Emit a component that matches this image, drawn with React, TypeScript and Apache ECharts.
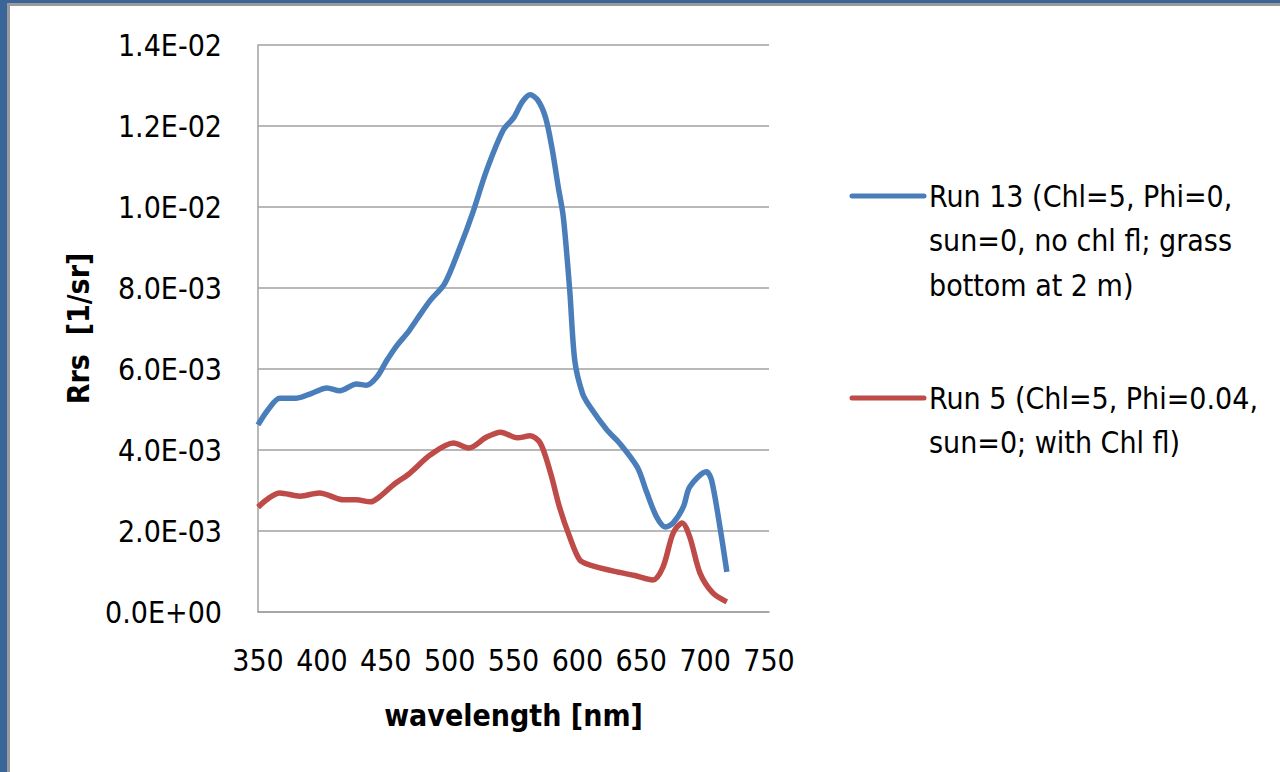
import React, { useEffect, useRef } from "react";
import * as echarts from "echarts";

const blueWl = [350, 358, 367, 380, 392, 404, 414, 427, 435, 443, 451, 459, 467, 474, 485, 496, 508, 518, 529, 542, 550, 557, 563, 569, 575, 580, 585, 589, 594, 598, 604, 610, 623, 633, 647, 654, 662, 669, 675, 683, 688, 701, 705, 712, 717];
const blueVal = [0.00462, 0.0050, 0.00528, 0.00528, 0.0054, 0.00553, 0.00546, 0.00563, 0.0056, 0.0058, 0.00622, 0.00659, 0.00689, 0.00721, 0.0077, 0.0081, 0.0090, 0.00985, 0.01091, 0.0119, 0.0122, 0.0126, 0.01277, 0.01264, 0.01222, 0.01148, 0.0105, 0.00975, 0.00795, 0.0062, 0.0054, 0.00506, 0.0045, 0.00417, 0.00357, 0.00298, 0.00235, 0.0021, 0.0022, 0.0026, 0.00309, 0.00346, 0.00326, 0.00202, 0.00099];

const redWl = [350, 358, 367, 383, 398, 417, 427, 438, 445, 456, 469, 485, 503, 515, 529, 540, 553, 563, 571, 579, 586, 594, 602, 610, 631, 645, 659, 667, 675, 682, 688, 696, 706, 717];
const redVal = [0.00259, 0.0028, 0.00294, 0.00286, 0.00294, 0.00277, 0.00277, 0.00272, 0.00284, 0.00314, 0.00343, 0.00388, 0.00417, 0.00405, 0.00432, 0.00444, 0.0043, 0.00435, 0.00417, 0.00343, 0.00259, 0.00185, 0.00128, 0.00116, 0.00099, 0.0009, 0.00079, 0.00111, 0.00195, 0.0022, 0.00185, 0.00096, 0.00047, 0.00025];

const seriesNames = ["Run 13 (Chl=5, Phi=0, sun=0, no chl fl; grass bottom at 2 m)", "Run 5 (Chl=5, Phi=0.04, sun=0; with Chl fl)"];
const legendLines = [
  ["Run 13 (Chl=5, Phi=0,", "sun=0, no chl fl; grass", "bottom at 2 m)"],
  ["Run 5 (Chl=5, Phi=0.04,", "sun=0; with Chl fl)"],
];
const colors = ["#4a7ebb", "#be4b48"];
const xTitle = "wavelength [nm]";
const yTitle = "Rrs  [1/sr]";

const FONT = "'Liberation Sans Narrow', 'DejaVu Sans Condensed', 'Open Sans', sans-serif";

function fmtSci(v: number): string {
  if (v === 0) return "0.0E+00";
  const s = v.toExponential(1).toUpperCase();
  const m = s.match(/^(.*)E([+-])(\d+)$/);
  if (!m) return s;
  return m[1] + "E" + m[2] + m[3].padStart(2, "0");
}

export default function App() {
  const ref = useRef<HTMLDivElement>(null);
  useEffect(() => {
    if (!ref.current) return;
    const chart = echarts.init(ref.current, null, { renderer: "svg" });
    const legendGraphics: any[] = [];
    const legendTops = [196, 398];
    legendLines.forEach((lines, i) => {
      legendGraphics.push({
        type: "line",
        shape: { x1: 852, y1: legendTops[i], x2: 924, y2: legendTops[i] },
        style: { stroke: colors[i], lineWidth: 5, lineCap: "round" },
      });
      lines.forEach((t, j) => {
        legendGraphics.push({
          type: "text",
          x: 929,
          y: legendTops[i] + j * 44.5,
          style: { text: t, font: `30px ${FONT}`, fill: "#000", verticalAlign: "middle", textAlign: "left" },
        });
      });
    });
    chart.setOption({
      animation: false,
      backgroundColor: "#ffffff",
      grid: { left: 258, right: 511, top: 45, bottom: 160 },
      xAxis: {
        type: "value",
        min: 350,
        max: 750,
        interval: 50,
        name: xTitle,
        nameLocation: "middle",
        nameGap: 88,
        nameTextStyle: { fontFamily: FONT, fontSize: 30, fontWeight: "bold", color: "#000" },
        axisLine: { show: true, lineStyle: { color: "#a0a0a0", width: 1.5 } },
        axisTick: { show: false },
        splitLine: { show: false },
        axisLabel: { fontFamily: FONT, fontSize: 30, color: "#000", margin: 33 },
      },
      yAxis: {
        type: "value",
        min: 0,
        max: 0.014,
        interval: 0.002,
        name: yTitle,
        nameLocation: "middle",
        nameGap: 165,
        nameTextStyle: { fontFamily: FONT, fontSize: 30, fontWeight: "bold", color: "#000" },
        axisLine: { show: true, lineStyle: { color: "#a0a0a0", width: 1.5 } },
        axisTick: { show: false },
        splitLine: { show: true, lineStyle: { color: "#a0a0a0", width: 1.5 } },
        axisLabel: { fontFamily: FONT, fontSize: 30, color: "#000", margin: 36, formatter: (v: number) => fmtSci(v) },
      },
      series: [
        {
          name: seriesNames[0],
          type: "line",
          data: blueWl.map((w, i) => [w, blueVal[i]]),
          showSymbol: false,
          smooth: 0.3,
          lineStyle: { color: colors[0], width: 5.5 },
          itemStyle: { color: colors[0] },
        },
        {
          name: seriesNames[1],
          type: "line",
          data: redWl.map((w, i) => [w, redVal[i]]),
          showSymbol: false,
          smooth: 0.3,
          lineStyle: { color: colors[1], width: 5.5 },
          itemStyle: { color: colors[1] },
        },
      ],
      graphic: [
        { type: "rect", shape: { x: 0, y: 0, width: 7, height: 772 }, style: { fill: "#3a6599" } },
        { type: "rect", shape: { x: 0, y: 0, width: 1280, height: 3 }, style: { fill: "#3a6599" } },
        { type: "rect", shape: { x: 7, y: 3, width: 3, height: 769 }, style: { fill: "#9a9a9a" } },
        { type: "rect", shape: { x: 7, y: 3, width: 1273, height: 3 }, style: { fill: "#9a9a9a" } },
        ...legendGraphics,
      ],
    });
    return () => chart.dispose();
  }, []);
  return <div ref={ref} style={{ position: "fixed", left: 0, top: 0, width: 1280, height: 772 }} />;
}
